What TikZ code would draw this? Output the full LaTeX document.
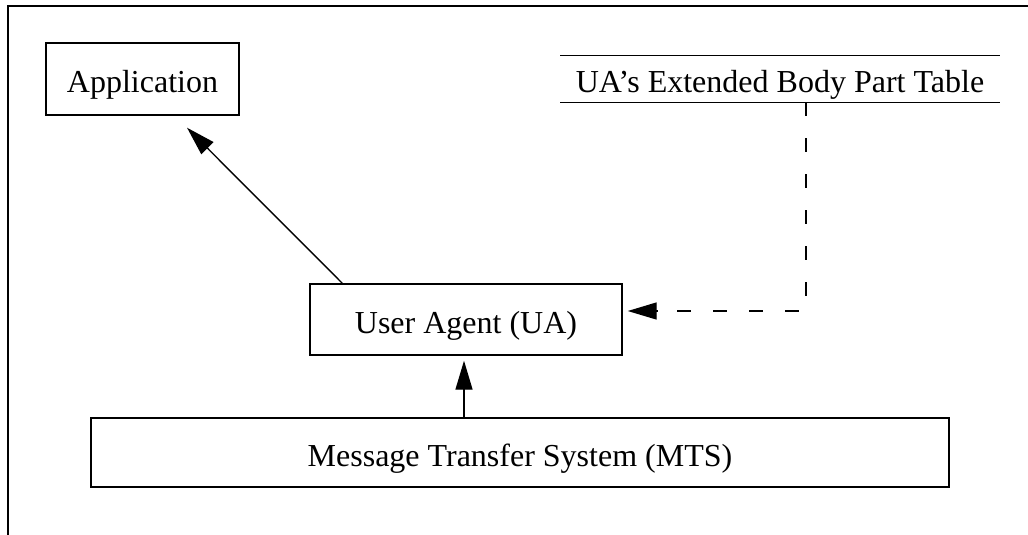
\documentclass[tikz,border=0pt]{standalone}
\usepackage{fontspec}
\setmainfont{Liberation Serif}
\usetikzlibrary{arrows.meta,calc}
\begin{document}
\begin{tikzpicture}[x=1pt,y=-1pt,
  txt/.style={inner sep=0pt,text height=29pt,text depth=2pt,font=\fontsize{32}{38}\selectfont},
  box/.style={txt,draw,line width=1.4pt},
  lbl/.style={txt},
  arr/.style={line width=1.4pt,-{Triangle[length=29pt,width=17pt]}},
  dsh/.style={line width=1.4pt,dash pattern=on 14pt off 22pt}]
\useasboundingbox (0,0) rectangle (1028,535);
\draw[line width=2.6pt] (8,535) -- (8,6) -- (1028,6);
\node[box,minimum width=193pt,minimum height=72pt] (app) at (142.5,79) {Application};
\node[lbl,minimum width=439pt,minimum height=46pt] (tab) at (780,79) {UA’s Extended Body Part Table};
\draw[line width=1.4pt] (tab.north west) -- (tab.north east);
\draw[line width=1.4pt] (tab.south west) -- (tab.south east);
\node[box,minimum width=312pt,minimum height=71pt] (ua) at (466,319.5) {User Agent (UA)};
\node[box,minimum width=858pt,minimum height=69pt] (mts) at (520,452.5) {Message Transfer System (MTS)};
\coordinate (appin) at ($(app.south)+(44.5,12)$);
\draw[arr] ($(ua.north west)+(33,0)$) -- (appin);
\coordinate (uain) at ($(ua.south)+(-2,5)$);
\draw[arr] ($(mts.north)+(-56,0)$) -- (uain);
\coordinate (tabout) at ($(tab.south)+(26,0)$);
\coordinate (uaeast) at ($(ua.east)+(5,-8.5)$);
\coordinate (corner) at (tabout |- uaeast);
\draw[dsh] (tabout) -- (corner) -- ($(uaeast)+(29,0)$);
\draw[arr] ($(uaeast)+(30,0)$) -- (uaeast);
\end{tikzpicture}
\end{document}
